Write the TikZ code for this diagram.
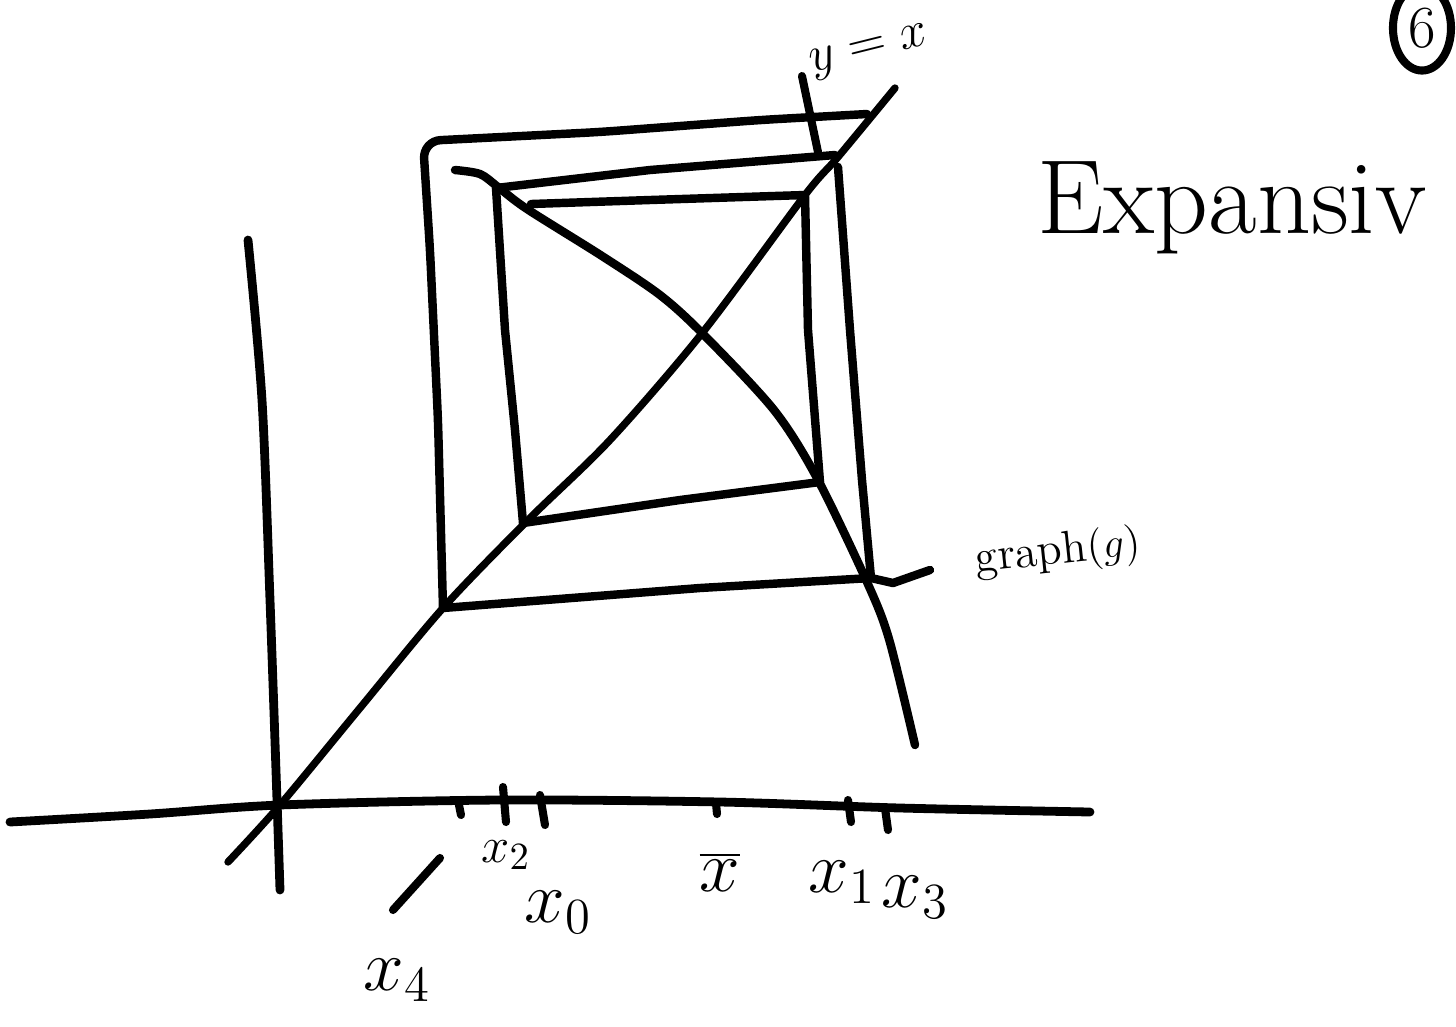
\documentclass[tikz,border=0pt]{standalone}
\usepackage{tikz}
\usetikzlibrary{shapes.geometric}
\tikzset{
  axisln/.style  = {line width=2.5pt, line cap=round, line join=round},
  diagln/.style  = {line width=2.1pt, line cap=round},
  graphln/.style = {line width=2.4pt, line cap=round, line join=round},
  webln/.style   = {line width=2.4pt, line cap=round, line join=round},
  tickmk/.style  = {line width=2.3pt, line cap=round},
  ticklab/.style = {font=\fontsize{21}{23}\selectfont, inner sep=1pt}
}

\begin{document}
\begin{tikzpicture}[x=0.01cm,y=-0.01cm]
  \useasboundingbox (0,0) rectangle (1456,1026);
  \clip (0,0) rectangle (1456,1026);
  % axes
  \draw[axisln] plot[smooth] coordinates {(10,822) (150,814) (280,805) (500,800) (720,802) (900,808) (1090,812)};
  \draw[axisln] plot[smooth] coordinates {(248,240) (262,400) (270,600) (277,800) (280,890)};
  % the diagonal y=x and the graph of g
  \draw[diagln] plot[smooth] coordinates {(228,862) (280,805) (360,708) (443,608) (528,520) (610,440) (703,332) (805,195) (838,157) (895,88)};
  \draw[graphln] plot[smooth] coordinates {(455,170) (480,174) (498,187) (527,209) (602,256) (660,295) (703,334) (774,410) (817,478) (867,582) (889,639) (915,745)};
  % cobweb corners
  \coordinate (c4a) at (443,608);
  \coordinate (c4b) at (423,141);
  \coordinate (c5)  at (867,114);
  \coordinate (c3a) at (838,167);
  \coordinate (c3b) at (871,578);
  \coordinate (c2a) at (523,523);
  \coordinate (c2b) at (496,188);
  \coordinate (c2c) at (835,155);
  \coordinate (c1a) at (805,195);
  \coordinate (c1b) at (820,482);
  \coordinate (c0)  at (531,204);
  % outer loop
  \draw[webln,rounded corners=5pt] (c4a) -- (438,420) -- (430,250) -- (c4b) -- (600,132) -- (760,120) -- (c5);
  \draw[webln] (c3a) -- (850,330) -- (862,480) -- (c3b);
  \draw[webln] (c4a) -- (700,588) -- (c3b) -- (893,583) -- (930,570);
  % middle loop
  \draw[webln] (c2b) -- (650,170) -- (c2c);
  \draw[webln] (c2a) -- (515,430) -- (505,330) -- (c2b);
  % inner loop
  \draw[webln] (c0) -- (650,200) -- (c1a);
  \draw[webln] (c1a) -- (808,330) -- (c1b);
  \draw[webln] (c2a) -- (680,500) -- (c1b);
  % ticks on the axis
  \foreach \tx/\ty/\bx/\by in {458/800/461/815, 503/787/506/822, 540/795/545/825, 716/803/717/814, 848/800/851/822, 885/808/888/830}
    \draw[tickmk] (\tx,\ty) -- (\bx,\by);
  % labels
  \node[ticklab] (lx4) at (397,980) {$x_4$};
  \coordinate (s4a) at (393,910);
  \coordinate (s4b) at (440,858);
  \draw[tickmk] (s4a) -- (s4b);
  \node[ticklab,font=\fontsize{15}{17}\selectfont] (lx2) at (506,855) {$x_2$};
  \node[ticklab] (lx0) at (558,912) {$x_0$};
  \node[ticklab] (lxb) at (720,872) {$\overline{x}$};
  \node[ticklab] (lx1) at (842,882) {$x_1$};
  \node[ticklab] (lx3) at (915,897) {$x_3$};
  \node[font=\fontsize{15}{17}\selectfont, rotate=14] (lyx) at (870,52) {$y=x$};
  \coordinate (yxp) at (818,152);
  \draw[tickmk] (802,76) -- (yxp);
  \node[font=\fontsize{13}{15}\selectfont, rotate=6] (lgr) at (1058,553) {graph$(g)$};
  \node[font=\fontsize{30}{32}\selectfont] (lexp) at (1232,208) {Expansiv};
  \node[draw, ellipse, line width=2.3pt, minimum width=0.58cm, minimum height=0.85cm, inner sep=0pt,
        font=\fontsize{17}{19}\selectfont] (pg) at (1422,28) {6};
\end{tikzpicture}
\end{document}
